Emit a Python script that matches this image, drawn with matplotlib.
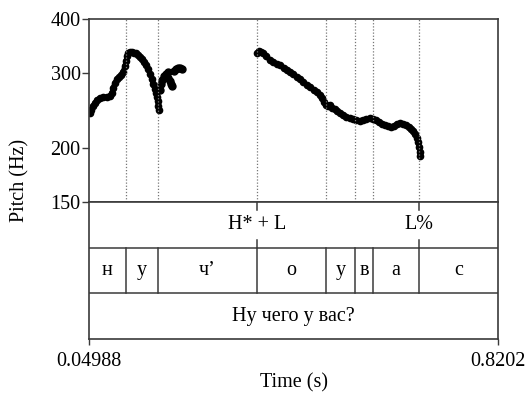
#Pitch contour with tone / segment / sentence tiers
import matplotlib
matplotlib.use("Agg")
import matplotlib.pyplot as plt
import matplotlib.ticker as mticker

plt.rcParams['font.family'] = ['Liberation Serif', 'DejaVu Serif']

tmin, tmax = 0.04988, 0.8202  #time window [s]

#pitch track, first stretch (connected)
t1 = [0.0518, 0.0537, 0.0574, 0.0612, 0.0649, 0.0706, 0.0763, 0.0838, 0.0894, 0.0932,
      0.0951, 0.0989, 0.1026, 0.1064, 0.1102, 0.1139, 0.1177, 0.1196, 0.1215, 0.1233,
      0.1271, 0.1309, 0.1346, 0.1384, 0.1422, 0.1459, 0.1497, 0.1535, 0.1572, 0.1610,
      0.1648, 0.1685, 0.1704, 0.1742, 0.1761, 0.1780, 0.1798, 0.1805, 0.1810]
f1 = [242, 246, 251, 255, 259, 262, 263, 263, 265, 269,
      276, 284, 290, 293, 296, 301, 311, 319, 328, 333,
      335, 335, 333, 333, 330, 326, 323, 318, 313, 306,
      298, 290, 282, 275, 269, 263, 258, 251, 246]

#scattered frames after the first stretch
t1s = [0.1836, 0.1855, 0.1874, 0.1911, 0.1949, 0.1987, 0.1987, 0.2024, 0.2043, 0.2062,
       0.2100, 0.2138, 0.2175, 0.2213, 0.2250]
f1s = [273, 282, 288, 295, 298, 301, 292, 287, 282, 279,
       303, 306, 308, 308, 306]

#pitch track, second stretch
t2 = [0.3663, 0.3701, 0.3738, 0.3776, 0.3832, 0.3908, 0.3964, 0.4040, 0.4096, 0.4172,
      0.4228, 0.4285, 0.4341, 0.4416, 0.4473, 0.4529, 0.4604, 0.4661, 0.4736, 0.4793,
      0.4849, 0.4887, 0.4925, 0.4962, 0.5000, 0.5038, 0.5075, 0.5132, 0.5169, 0.5226,
      0.5283, 0.5339, 0.5414, 0.5471, 0.5527, 0.5603, 0.5659, 0.5716, 0.5791, 0.5848,
      0.5904, 0.5960, 0.6017, 0.6073, 0.6130, 0.6186, 0.6243, 0.6299, 0.6356, 0.6412,
      0.6469, 0.6525, 0.6563, 0.6601, 0.6638, 0.6676, 0.6695, 0.6714, 0.6733, 0.6738]
f2 = [333, 337, 335, 333, 328, 321, 318, 314, 313, 308,
      304, 301, 298, 293, 290, 285, 281, 278, 273, 270,
      266, 262, 256, 252, 251, 252, 248, 247, 244, 242,
      239, 237, 235, 234, 233, 232, 233, 234, 235, 234,
      233, 230, 228, 227, 225, 224, 225, 228, 229, 228,
      227, 224, 222, 219, 216, 211, 207, 201, 196, 192]

#tiers
tone_times = [0.3663, 0.6714]
tone_labels = ["H* + L", "L%"]
seg_bounds = [0.1196, 0.1798, 0.3663, 0.4962, 0.5509, 0.5848, 0.6714]
seg_labels = ["н", "у", "ч’", "о", "у", "в", "а", "с"]
sentence = "Ну чего у вас?"

FS = 14.5
W, H = 528, 393
fig = plt.figure(figsize=(W/100, H/100), dpi=100)
L, R = 89, 498
ax = fig.add_axes([L/W, 1-202/H, (R-L)/W, 183/H])
tx = fig.add_axes([L/W, 1-339/H, (R-L)/W, 137/H])

fc = '#3a3a3a'
ax.plot(t1, f1, '-', color='black', lw=3.6, solid_capstyle='round')
ax.plot(t1, f1, 'o', color='black', ms=4.5)
ax.plot(t1s, f1s, 'o', color='black', ms=5)
ax.plot(t2, f2, '-', color='black', lw=3.6, solid_capstyle='round')
ax.plot(t2, f2, 'o', color='black', ms=4.5)
for b in seg_bounds:
    ax.axvline(b, color='#777777', lw=0.9, ls=(0, (1, 1.5)))
ax.set_yscale('log')
ax.set_ylim(150, 400)
ax.set_xlim(tmin, tmax)
ax.yaxis.set_major_locator(mticker.FixedLocator([150, 200, 300, 400]))
ax.yaxis.set_major_formatter(mticker.FixedFormatter(['150', '200', '300', '400']))
ax.yaxis.set_minor_locator(mticker.NullLocator())
ax.set_xticks([])
ax.tick_params(axis='y', direction='out', length=5, width=1, color=fc, labelsize=FS, pad=1)
for s in ax.spines.values():
    s.set_color(fc)
    s.set_linewidth(1.2)
fig.text(20/W, 1-180/H, "Pitch (Hz)", rotation=90, ha='center', va='center', fontsize=FS)

#text tiers
tx.set_xlim(tmin, tmax)
tx.set_ylim(0, 3)
tx.axhline(1, color=fc, lw=1.1)
tx.axhline(2, color=fc, lw=1.1)
for t, lab in zip(tone_times, tone_labels):
    tx.plot([t, t], [3, 2.83], color=fc, lw=1.1)
    tx.plot([t, t], [2, 2.17], color=fc, lw=1.1)
    tx.text(t, 2.5, lab, ha='center', va='center', fontsize=FS)
edges = [tmin] + seg_bounds + [tmax]
for b in seg_bounds:
    tx.plot([b, b], [1, 2], color=fc, lw=1.1)
for i, lab in enumerate(seg_labels):
    tx.text((edges[i]+edges[i+1])/2, 1.5, lab, ha='center', va='center', fontsize=FS)
tx.text((tmin+tmax)/2, 0.5, sentence, ha='center', va='center', fontsize=FS)
tx.set_yticks([])
tx.set_xticks([tmin, tmax])
tx.set_xticklabels(["0.04988", "0.8202"])
tx.tick_params(axis='x', direction='out', length=4, width=1, color=fc, labelsize=FS, pad=5)
tx.set_xlabel("Time (s)", fontsize=FS, labelpad=2)
for s in tx.spines.values():
    s.set_color(fc)
    s.set_linewidth(1.2)

fig.savefig("out.png", dpi=100)
